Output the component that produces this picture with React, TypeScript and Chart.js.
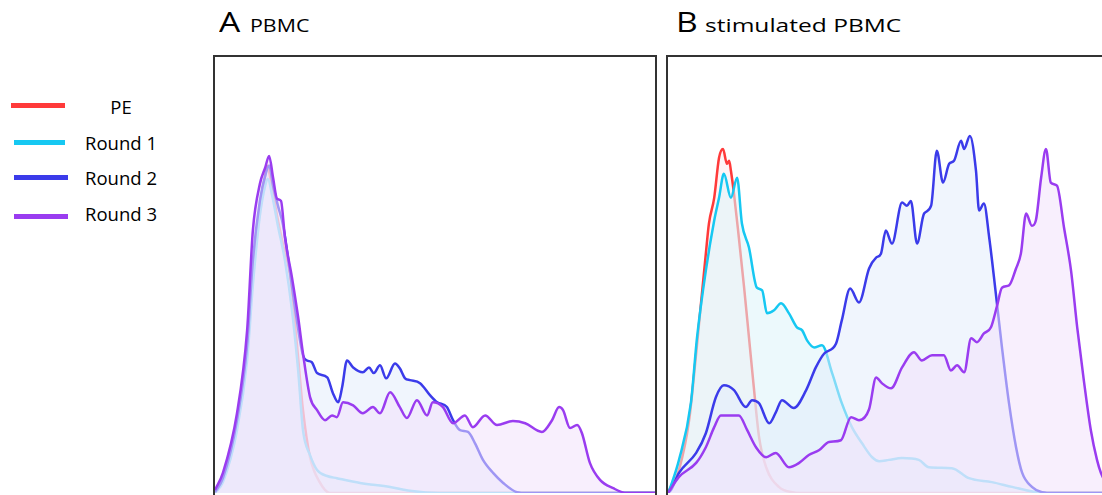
import React, { useEffect, useRef } from "react";
import { Chart, registerables } from "chart.js";

Chart.register(...registerables);

// ---- data: [channel (0-100 across panel), count (0-100 of panel height)] ----
const A_PE: [number, number][] = [
  [0, 0], [1.8, 3.0], [5.0, 15.6], [7.3, 32.7], [8.6, 51.0], [10.2, 65.9], [11.4, 72.8], [11.8, 75.1],
  [12.7, 71.6], [14.1, 63.6], [15.5, 56.8], [17.0, 50.3], [18.6, 34.3], [20.0, 19.0], [21.6, 8.2],
  [23.9, 2.3], [26.1, 0], [100, 0],
];
const A_R1: [number, number][] = [
  [0, 0], [1.8, 2.5], [5.0, 14.4], [7.3, 30.4], [8.6, 47.6], [10.2, 63.6], [11.4, 70.5], [12.0, 72.1],
  [13.0, 68.2], [14.3, 61.3], [15.9, 53.3], [17.5, 41.9], [18.9, 28.1], [20.0, 14.4], [21.6, 8.7],
  [23.2, 5.3], [25.5, 3.9], [27.7, 3.4], [33.0, 2.3], [39.8, 1.4], [44.3, 0.5], [51.1, 0], [100, 0],
];
const A_R2: [number, number][] = [
  [0, 0.2], [1.8, 3.4], [5.0, 16.7], [7.3, 33.9], [8.6, 53.3], [10.2, 67.0], [11.6, 73.5], [12.3, 75.1],
  [13.2, 70.5], [14.3, 65.9], [15.5, 61.3], [17.0, 51.0], [18.6, 39.6], [20.0, 31.6], [20.9, 30.4],
  [22.0, 30.0], [23.2, 27.5], [25.5, 26.5], [26.8, 22.9], [28.0, 20.8], [28.9, 24.3], [30.0, 30.4],
  [31.4, 28.8], [33.6, 27.7], [35.0, 28.8], [36.1, 27.5], [37.5, 29.3], [38.9, 26.3], [40.9, 29.7],
  [42.0, 28.6], [43.2, 26.3], [44.3, 25.9], [46.6, 25.2], [48.9, 22.4], [50.5, 20.8], [52.7, 19.7],
  [54.1, 16.7], [55.7, 14.4], [57.5, 14.0], [59.1, 11.4], [60.9, 7.6], [63.2, 4.6], [65.5, 2.3],
  [68.6, 0.2], [70.9, 0], [100, 0],
];
const A_R3: [number, number][] = [
  [0, 0.7], [1.8, 4.6], [5.0, 18.3], [7.3, 37.3], [8.6, 60.2], [10.2, 70.9], [11.4, 74.6], [12.3, 77.3],
  [13.2, 72.3], [14.1, 67.5], [15.0, 67.0], [15.9, 58.6], [17.5, 49.4], [18.9, 40.3], [20.0, 32.0],
  [21.6, 22.0], [23.2, 19.0], [25.0, 16.7], [26.6, 17.8], [27.7, 17.4], [29.1, 20.8], [31.4, 20.1],
  [33.6, 18.3], [35.9, 19.7], [37.5, 18.3], [39.8, 23.1], [42.0, 19.7], [43.6, 17.2], [45.9, 21.3],
  [48.2, 17.8], [49.5, 20.8], [51.8, 19.7], [54.1, 16.0], [56.8, 17.8], [58.6, 15.1], [61.4, 17.8],
  [64.1, 15.6], [67.7, 16.5], [70.5, 16.0], [74.3, 14.0], [76.6, 16.7], [78.2, 19.7], [79.1, 19.0],
  [80.7, 14.9], [82.3, 15.6], [83.4, 13.7], [85.2, 6.9], [87.5, 3.0], [90.5, 1.1], [93.6, 0], [100, 0],
];

const B_PE: [number, number][] = [
  [0, 0], [0.7, 1.4], [2.5, 5.3], [4.8, 16.7], [6.4, 32.0], [7.5, 43.5], [8.6, 54.9], [9.3, 61.8],
  [10.5, 67.7], [11.6, 76.9], [12.5, 78.9], [13.4, 75.5], [13.9, 76.2], [14.3, 73.9], [15.0, 68.6],
  [16.1, 58.6], [17.3, 47.1], [18.4, 35.7], [19.5, 24.3], [20.7, 12.8], [22.3, 5.9], [25.2, 1.4],
  [28.2, 0.2], [32.0, 0], [100, 0],
];
const B_R1: [number, number][] = [
  [0, 0], [0.7, 1.8], [2.5, 7.6], [5.2, 20.6], [6.6, 35.7], [8.6, 51.0], [10.5, 62.5], [11.6, 67.7],
  [12.7, 73.2], [14.3, 67.7], [15.7, 72.3], [16.8, 61.8], [18.4, 56.3], [20.2, 47.1], [21.4, 46.5],
  [22.5, 41.2], [24.1, 41.9], [25.7, 43.5], [27.5, 41.2], [29.3, 38.0], [30.5, 37.3], [31.6, 35.0],
  [33.2, 33.4], [35.0, 33.9], [37.3, 27.5], [39.5, 20.6], [41.8, 15.1], [44.1, 11.4], [46.4, 8.2],
  [48.0, 7.3], [50.2, 7.6], [53.2, 8.0], [57.0, 7.6], [59.3, 5.9], [64.5, 5.7], [68.4, 3.4],
  [73.6, 2.5], [78.2, 1.4], [83.6, 0.2], [86.6, 0], [100, 0],
];
const B_R2: [number, number][] = [
  [0, 0], [0.7, 0.7], [2.5, 4.6], [6.4, 9.2], [8.6, 13.7], [10.9, 22.0], [12.7, 24.7], [15.0, 23.6],
  [17.7, 19.7], [19.1, 21.3], [20.7, 20.6], [23.0, 16.0], [24.5, 18.5], [25.9, 21.3], [28.6, 19.5],
  [31.4, 23.6], [33.6, 28.8], [35.5, 32.0], [38.2, 34.3], [39.5, 39.6], [41.4, 46.9], [43.4, 43.7],
  [45.7, 51.5], [47.3, 54.0], [48.4, 54.9], [49.5, 60.2], [50.9, 57.2], [53.2, 66.6], [54.3, 65.9],
  [55.2, 67.0], [56.6, 57.2], [58.2, 64.1], [59.8, 65.9], [61.1, 78.5], [62.5, 71.2], [63.9, 75.5],
  [65.0, 76.2], [66.6, 80.8], [67.3, 78.9], [68.6, 81.9], [70.0, 73.9], [70.7, 64.8], [71.8, 66.4],
  [73.0, 58.6], [74.5, 45.8], [75.9, 33.4], [77.5, 20.6], [79.1, 10.5], [80.5, 4.6], [82.7, 1.4],
  [85.0, 0.2], [87.7, 0], [100, 0],
];
const B_R3: [number, number][] = [
  [0, 0], [2.5, 3.7], [6.4, 6.9], [8.6, 10.5], [10.5, 15.1], [12.0, 17.8], [13.9, 17.8], [16.1, 17.8],
  [18.0, 14.4], [20.0, 10.5], [22.3, 8.2], [24.5, 9.2], [27.5, 5.9], [29.8, 6.9], [32.0, 8.7],
  [34.3, 9.8], [36.6, 11.7], [39.3, 12.1], [41.6, 17.4], [43.4, 16.7], [45.7, 19.2], [47.3, 26.5],
  [48.6, 25.2], [50.7, 24.0], [53.2, 28.8], [55.9, 32.3], [57.7, 30.4], [60.0, 31.6], [62.7, 31.6],
  [64.3, 28.1], [65.7, 29.3], [67.3, 27.7], [68.9, 35.5], [70.2, 34.6], [71.8, 36.6], [73.4, 38.0],
  [74.8, 43.0], [75.9, 47.1], [77.5, 47.6], [79.1, 51.5], [80.2, 54.9], [81.4, 64.1], [82.7, 61.3],
  [83.6, 62.5], [84.8, 72.3], [85.9, 78.9], [87.0, 71.2], [88.4, 70.5], [90.0, 60.9], [91.6, 51.0],
  [93.0, 38.0], [94.5, 25.9], [96.1, 14.4], [97.5, 7.6], [98.4, 4.6], [100, 1.5],
];

const SERIES_NAMES = ["PE", "Round 1", "Round 2", "Round 3"];
const LINE_COLORS = ["#ff3a3a", "#16c8f2", "#3b3bea", "#9a3cf0"];
const FILL_COLORS = [
  "rgba(255,228,232,0.40)",
  "rgba(222,245,250,0.58)",
  "rgba(226,236,251,0.52)",
  "rgba(243,226,251,0.55)",
];
const PANEL_TITLES = [
  { letter: "A", label: "PBMC", labelScale: 1.15 },
  { letter: "B", label: "stimulated PBMC", labelScale: 1.32 },
];

const FONT = "'Open Sans', 'Noto Sans', sans-serif";

function Panel({ series }: { series: [number, number][][] }) {
  const ref = useRef<HTMLCanvasElement | null>(null);
  useEffect(() => {
    if (!ref.current) return;
    // Round 3 drawn on top, PE at the bottom
    const datasets = series.map((pts, i) => ({
      label: SERIES_NAMES[i],
      data: pts.map(([x, y]) => ({ x, y })),
      borderColor: LINE_COLORS[i],
      backgroundColor: FILL_COLORS[i],
      borderWidth: 2.5,
      pointRadius: 0,
      fill: "origin",
      cubicInterpolationMode: "monotone" as const,
      order: series.length - i,
    }));
    const chart = new Chart(ref.current, {
      type: "line",
      data: { datasets },
      options: {
        animation: false,
        responsive: false,
        devicePixelRatio: 1,
        layout: { padding: { left: 0, right: 0, top: 0, bottom: 2 } },
        plugins: { legend: { display: false }, tooltip: { enabled: false } },
        scales: {
          x: { type: "linear", min: 0, max: 100, display: false },
          y: { type: "linear", min: 0, max: 100, display: false },
        },
      },
    });
    return () => chart.destroy();
  }, [series]);
  return <canvas ref={ref} width={440} height={438} />;
}

const PANEL_A = [A_PE, A_R1, A_R2, A_R3];
const PANEL_B = [B_PE, B_R1, B_R2, B_R3];

export default function App() {
  const legendLines = [
    { top: 103, left: 11, width: 54 },
    { top: 140, left: 14, width: 51 },
    { top: 175, left: 14, width: 54 },
    { top: 214, left: 14, width: 54 },
  ];
  const legendTextTops = [97.5, 133.5, 169.2, 205.2];
  const boxLefts = [213, 666];
  const letterLefts = [219, 676];
  const labelLefts = [250, 705];
  return (
    <div
      style={{
        position: "fixed",
        inset: 0,
        overflow: "hidden",
        background: "#fff",
        fontFamily: FONT,
        color: "#000",
      }}
    >
      {SERIES_NAMES.map((name, i) => (
        <React.Fragment key={name}>
          <div
            style={{
              position: "absolute",
              top: legendLines[i].top,
              left: legendLines[i].left,
              width: legendLines[i].width,
              height: 5,
              background: LINE_COLORS[i],
            }}
          />
          <div
            style={{
              position: "absolute",
              top: legendTextTops[i],
              left: 71,
              width: 100,
              textAlign: "center",
              fontSize: 18.5,
              lineHeight: 1,
              whiteSpace: "nowrap",
            }}
          >
            {name}
          </div>
        </React.Fragment>
      ))}
      {PANEL_TITLES.map((t, i) => (
        <React.Fragment key={t.letter}>
          <div
            style={{
              position: "absolute",
              left: letterLefts[i],
              top: 7.4,
              fontSize: 28,
              lineHeight: 1,
              transform: "scaleX(1.2)",
              transformOrigin: "left",
              whiteSpace: "nowrap",
            }}
          >
            {t.letter}
          </div>
          <div
            style={{
              position: "absolute",
              left: labelLefts[i],
              top: 15.8,
              fontSize: 18.6,
              lineHeight: 1,
              transform: `scaleX(${t.labelScale})`,
              transformOrigin: "left",
              whiteSpace: "nowrap",
            }}
          >
            {t.label}
          </div>
          <div
            style={{
              position: "absolute",
              left: boxLefts[i],
              top: 55,
              width: 444,
              height: 520,
              border: "2px solid #333",
              boxSizing: "border-box",
            }}
          />
          <div style={{ position: "absolute", left: boxLefts[i] + 2, top: 57 }}>
            <Panel series={i === 0 ? PANEL_A : PANEL_B} />
          </div>
        </React.Fragment>
      ))}
    </div>
  );
}
